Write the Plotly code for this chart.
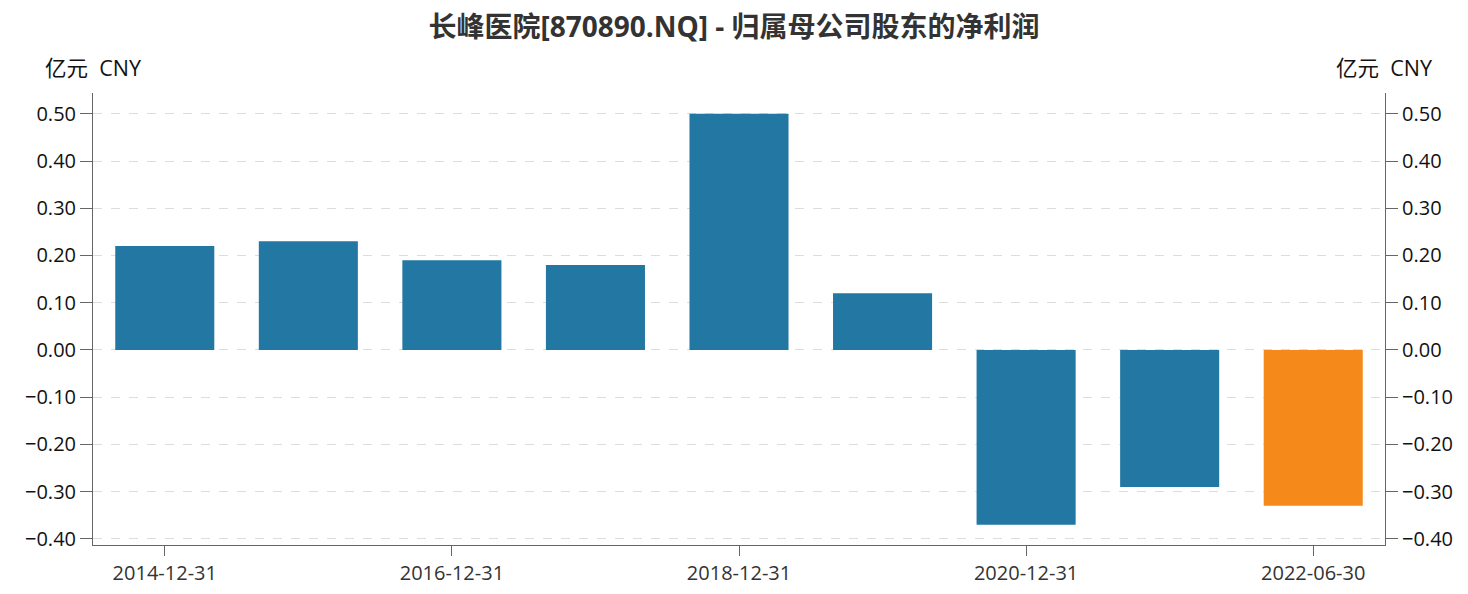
import plotly.graph_objects as go

# Data
dates = ["2014-12-31", "2015-12-31", "2016-12-31", "2017-12-31", "2018-12-31",
         "2019-12-31", "2020-12-31", "2021-12-31", "2022-06-30"]
net_profit = [0.22, 0.23, 0.19, 0.18, 0.50, 0.12, -0.37, -0.29, -0.33]
bar_colors = ["#2277a3"] * 8 + ["#f58a1b"]
shown_ticks = ["2014-12-31", "2016-12-31", "2018-12-31", "2020-12-31", "2022-06-30"]
y_ticks = [0.5, 0.4, 0.3, 0.2, 0.1, 0.0, -0.1, -0.2, -0.3, -0.4]

font_family = "Open Sans, Noto Sans CJK SC, sans-serif"
y_range = [-0.413, 0.544]

fig = go.Figure()
fig.add_trace(go.Bar(
    x=dates,
    y=net_profit,
    marker=dict(color=bar_colors, line=dict(width=0)),
    width=0.69,
    hovertemplate="%{x}<br>%{y:.2f} 亿元<extra></extra>",
    showlegend=False,
))

axis_common = dict(
    range=y_range,
    tickvals=y_ticks,
    tickformat=".2f",
    ticks="outside",
    ticklen=12,
    tickcolor="#666",
    showline=True,
    linecolor="#666",
    linewidth=1,
    zeroline=False,
    automargin=False,
    tickfont=dict(size=20, color="#111"),
)

# page body has an 8px margin, so the figure is sized to fit inside it
fig.update_layout(
    title=dict(
        text="<b>长峰医院[870890.NQ] - 归属母公司股东的净利润</b>",
        x=0.5, xanchor="center", y=0.967, yanchor="middle",
        font=dict(size=28, color="#333"),
    ),
    font=dict(family=font_family),
    width=1452,
    height=578,
    margin=dict(l=85, r=75, t=85, b=41),
    plot_bgcolor="white",
    paper_bgcolor="white",
    xaxis=dict(
        type="category",
        categoryorder="array",
        categoryarray=dates,
        range=[-0.5, len(dates) - 0.5],
        tickvals=shown_ticks,
        ticks="outside",
        ticklen=10,
        tickcolor="#666",
        showline=True,
        linecolor="#666",
        showgrid=False,
        automargin=False,
        tickfont=dict(size=20, color="#333"),
    ),
    yaxis=dict(
        showgrid=True,
        gridcolor="#dddddd",
        griddash="dash",
        **axis_common,
    ),
    yaxis2=dict(
        overlaying="y",
        side="right",
        showgrid=False,
        **axis_common,
    ),
    annotations=[
        dict(text="亿元  CNY", xref="paper", yref="paper", x=-0.0387, y=1.057,
             xanchor="left", yanchor="middle", showarrow=False,
             font=dict(size=21.5, color="#111")),
        dict(text="亿元  CNY", xref="paper", yref="paper", x=1.0387, y=1.057,
             xanchor="right", yanchor="middle", showarrow=False,
             font=dict(size=21.5, color="#111")),
    ],
)

# invisible trace so the right axis is drawn
fig.add_trace(go.Bar(x=dates, y=net_profit, yaxis="y2", marker=dict(opacity=0),
                     width=0.69, hoverinfo="skip", showlegend=False))
fig.update_layout(barmode="overlay")

fig.write_html("out.html")
